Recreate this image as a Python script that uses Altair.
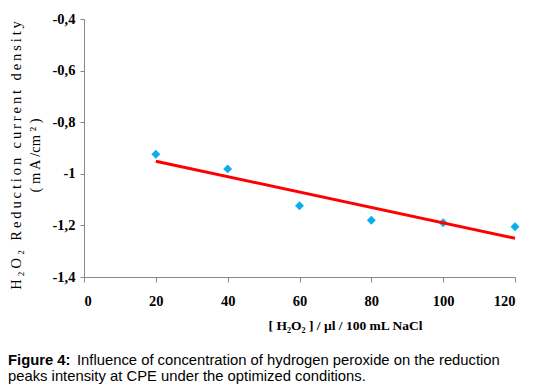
import altair as alt
import pandas as pd

# ---- data ----
conc = [20, 40, 60, 80, 100, 120]
density = [-0.924, -0.981, -1.124, -1.180, -1.190, -1.205]
x_ticks = [0, 20, 40, 60, 80, 100, 120]
y_ticks = [-1.4, -1.2, -1.0, -0.8, -0.6, -0.4]

y_title_l1 = "H₂O₂ Reduction current density"
y_title_l2 = "( m A /cm ² )"
x_title = "[ H₂O₂ ] / µl / 100 mL NaCl"
caption_bold = "Figure 4:"
caption_line1 = "Influence of concentration of hydrogen peroxide on the reduction"
caption_line2 = "peaks intensity at CPE under the optimized conditions."


def spaced(s):
    return "\u2009".join(s)


df = pd.DataFrame({"c": conc, "d": density})

x_enc = alt.X(
    "c:Q",
    scale=alt.Scale(domain=[0, 120], nice=False, zero=False),
    axis=alt.Axis(
        values=x_ticks,
        title=x_title,
        titleFont="Liberation Serif",
        titleFontWeight="bold",
        titleFontSize=13.5,
        titleX=261,
        titleY=48,
        titleBaseline="middle",
        titleAlign="center",
        tickSize=5,
        labelPadding=12,
        grid=False,
    ),
)
y_enc = alt.Y(
    "d:Q",
    scale=alt.Scale(domain=[-1.4, -0.4], nice=False, zero=False),
    axis=alt.Axis(
        values=y_ticks,
        labelExpr="replace(toString(round(datum.value*10)/10), '.', ',')",
        title=[spaced(y_title_l1), y_title_l2],
        titleFont="Liberation Serif",
        titleFontWeight="normal",
        titleFontSize=14.5,
        titleAngle=270,
        titleX=-68,
        titleY=136,
        titleBaseline="middle",
        titleAlign="center",
        titleLineHeight=19,
        tickSize=4,
        labelPadding=5,
        grid=False,
    ),
)

base = alt.Chart(df)
points = base.mark_point(
    shape="diamond", filled=True, size=80, color="#0AAEEC", opacity=1
).encode(x=x_enc, y=y_enc)

trend = (
    base.transform_regression("c", "d")
    .mark_line(color="#FF0000", strokeWidth=3)
    .encode(x="c:Q", y="d:Q")
)

cap_font = "Liberation Sans"
cap_size = 14.8
cap1 = alt.Chart(alt.Data(values=[{"t": caption_bold}])).mark_text(
    align="left", baseline="middle", font=cap_font, fontWeight="bold",
    fontSize=cap_size, color="black"
).encode(x=alt.value(-76), y=alt.value(342), text="t:N")
cap2 = alt.Chart(alt.Data(values=[{"t": caption_line1}])).mark_text(
    align="left", baseline="middle", font=cap_font, fontSize=cap_size, color="black"
).encode(x=alt.value(-7), y=alt.value(342), text="t:N")
cap3 = alt.Chart(alt.Data(values=[{"t": caption_line2}])).mark_text(
    align="left", baseline="middle", font=cap_font, fontSize=cap_size, color="black"
).encode(x=alt.value(-76), y=alt.value(358), text="t:N")

chart = (
    alt.layer(points, trend, cap1, cap2, cap3)
    .properties(
        width=431,
        height=258,
        autosize=alt.AutoSizeParams(type="none"),
        padding={"left": 76, "top": 11, "right": 11, "bottom": 107},
        background="white",
    )
    .configure_view(stroke=None)
    .configure_axis(
        domainColor="#888888",
        tickColor="#888888",
        labelFont="Liberation Serif",
        labelFontWeight="bold",
        labelFontSize=14.5,
        labelColor="black",
        titleColor="black",
    )
)

chart.save("out.html", embed_options={"renderer": "svg", "actions": False})
